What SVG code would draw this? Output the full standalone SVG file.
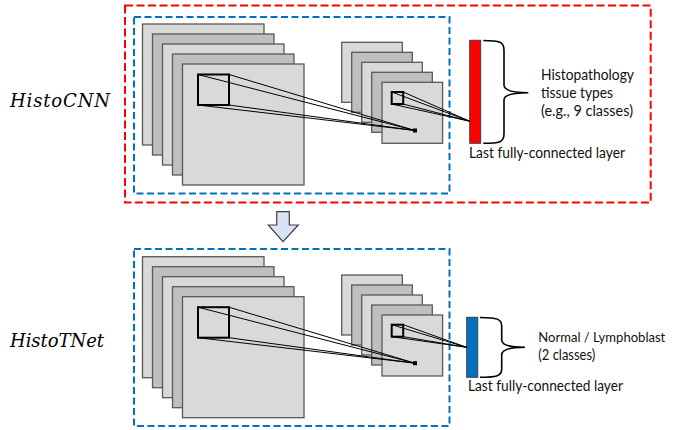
<svg xmlns="http://www.w3.org/2000/svg" xmlns:xlink="http://www.w3.org/1999/xlink" width="674" height="430" viewBox="0 0 674 430">
<style>
.lt{fill:#d9d9d9;stroke:#595959;stroke-width:1.3}
.dk{fill:#bfbfbf;stroke:#595959;stroke-width:1.3}
.ker{fill:none;stroke:#000;stroke-width:2}
.red{fill:none;stroke:#ff0000;stroke-width:2;stroke-dasharray:8 3.5}
.blue{fill:none;stroke:#0070c0;stroke-width:2;stroke-dasharray:7 3.5}
.conn line{stroke:#000;stroke-width:1}
.brace{fill:none;stroke:#000;stroke-width:1.6}
.txt{font-family:Lato,"Liberation Sans",Arial,sans-serif;font-size:14.5px;fill:#111}
.lbl{font-family:"DejaVu Serif","Liberation Serif",serif;font-style:italic;font-size:18px;fill:#000}
</style>
<defs>
<g id="bigstack">
<rect class="lt" x="142.5" y="24" width="121.5" height="121"/>
<rect class="dk" x="152.5" y="34" width="121.5" height="121"/>
<rect class="lt" x="162.5" y="44" width="121.5" height="121"/>
<rect class="dk" x="172.5" y="54" width="121.5" height="121"/>
<rect class="lt" x="182.5" y="64" width="121.5" height="121"/>
<rect class="ker" x="198" y="74.5" width="31" height="30.5"/>
</g>
<g id="smallstack">
<rect class="lt" x="341.7" y="42.3" width="60.6" height="60"/>
<rect class="dk" x="351.7" y="52.3" width="60.6" height="60"/>
<rect class="lt" x="361.7" y="62.3" width="60.6" height="60"/>
<rect class="dk" x="371.7" y="72.3" width="60.6" height="60"/>
<rect class="lt" x="382" y="82.3" width="60.6" height="61"/>
<rect class="ker" x="391.7" y="92" width="11.5" height="12"/>
<rect x="413" y="128.5" width="4" height="4" fill="#000"/>
</g>
</defs>

<g id="histocnn-box">
<rect class="red" x="125" y="5.5" width="525.7" height="197"/>
<rect class="blue" x="134" y="17" width="315.5" height="176.5"/>
</g>
<text id="histocnn-label" class="lbl" x="10" y="107" textLength="100" lengthAdjust="spacing">HistoCNN</text>

<g id="cnn-input">
<use xlink:href="#bigstack"/>
</g>
<g id="cnn-features">
<use xlink:href="#smallstack"/>
</g>
<g id="cnn-fc">
<rect x="469.7" y="40.3" width="11" height="103" fill="#ff0000" stroke="#404040" stroke-width="1"/>
<path class="brace" d="M483.3,40.5 C500,40.5 504,42 504,50 L504,85 C504,90 512,92.7 528.3,92.7 C512,92.7 504,95 504,100 L504,134 C504,142 500,143.3 483.3,143.3"/>
<text class="txt" x="541" y="80" textLength="93" lengthAdjust="spacingAndGlyphs">Histopathology</text>
<text class="txt" x="541" y="98" textLength="72" lengthAdjust="spacingAndGlyphs">tissue types</text>
<text class="txt" x="541" y="116" textLength="92" lengthAdjust="spacingAndGlyphs">(e.g., 9 classes)</text>
<text class="txt" x="469" y="158" textLength="156" lengthAdjust="spacingAndGlyphs">Last fully-connected layer</text>
</g>

<g id="transfer-arrow">
<path d="M276.7,211.7 L289.3,211.7 L289.3,225 L298.3,225 L283,241.7 L268.3,225 L276.7,225 Z" fill="#dae3f3" stroke="#404040" stroke-width="1.2" stroke-linejoin="miter"/>
</g>

<g id="histotnet-box">
<rect class="blue" x="134" y="249" width="315.5" height="177"/>
</g>
<text id="histotnet-label" class="lbl" x="10" y="347" textLength="94" lengthAdjust="spacing">HistoTNet</text>

<g id="tnet-input">
<use xlink:href="#bigstack" transform="translate(0,232.7)"/>
</g>
<g id="tnet-features">
<use xlink:href="#smallstack" transform="translate(0,232.7)"/>
</g>
<g id="tnet-fc">
<rect x="466.7" y="317.3" width="11" height="60" fill="#0070c0" stroke="#404040" stroke-width="1"/>
<path class="brace" d="M480,317.5 C497,317.5 501.7,319 501.7,326 L501.7,340 C501.7,345 509,347.3 525,347.3 C509,347.3 501.7,350 501.7,355 L501.7,369 C501.7,376 497,377.3 480,377.3"/>
<text class="txt" x="538.3" y="342" style="font-size:13.5px" textLength="127" lengthAdjust="spacingAndGlyphs">Normal / Lymphoblast</text>
<text class="txt" x="538.3" y="360" textLength="57" lengthAdjust="spacingAndGlyphs">(2 classes)</text>
<text class="txt" x="468" y="391" textLength="155" lengthAdjust="spacingAndGlyphs">Last fully-connected layer</text>
</g>

<g id="connectors" class="conn">
<line x1="198" y1="74.5" x2="415" y2="130.5"/>
<line x1="229" y1="74.5" x2="415" y2="130.5"/>
<line x1="198" y1="105" x2="415" y2="130.5"/>
<line x1="229" y1="105" x2="415" y2="130.5"/>
<line x1="391.7" y1="92" x2="470" y2="121.3"/>
<line x1="403.2" y1="92" x2="470" y2="121.3"/>
<line x1="391.7" y1="104" x2="470" y2="121.3"/>
<line x1="403.2" y1="104" x2="470" y2="121.3"/>
<line x1="198" y1="307.2" x2="415" y2="363.2"/>
<line x1="229" y1="307.2" x2="415" y2="363.2"/>
<line x1="198" y1="337.7" x2="415" y2="363.2"/>
<line x1="229" y1="337.7" x2="415" y2="363.2"/>
<line x1="391.7" y1="324.7" x2="466.7" y2="347.3"/>
<line x1="403.2" y1="324.7" x2="466.7" y2="347.3"/>
<line x1="391.7" y1="336.7" x2="466.7" y2="347.3"/>
<line x1="403.2" y1="336.7" x2="466.7" y2="347.3"/>
</g>
</svg>
